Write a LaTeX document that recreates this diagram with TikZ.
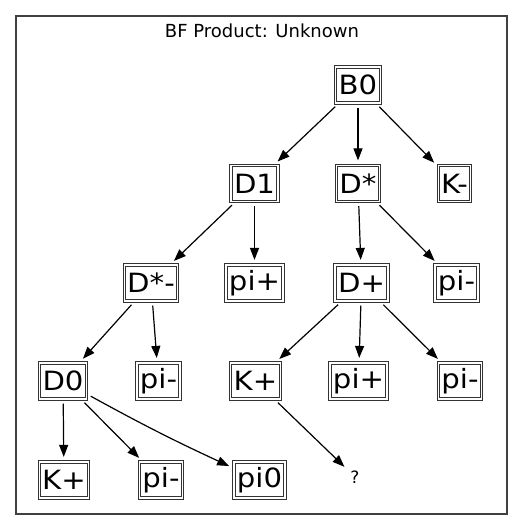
\documentclass[tikz,border=0pt]{standalone}
\usepackage{fontspec}
\setmainfont{DejaVu Sans}
\newfontfamily\labelfont[FakeStretch=1.1]{DejaVu Sans}
\usetikzlibrary{arrows.meta}
\begin{document}
\begin{tikzpicture}[x=1pt,y=1pt,
  particle/.style={draw=black!80,double=white,double distance=1.2pt,line width=1pt,
    font=\labelfont\fontsize{26.5}{26.5}\selectfont,inner xsep=3pt,inner ysep=0pt,
    minimum height=36pt,outer sep=1.6pt},
  decay/.style={line width=1.2pt,-{Triangle[length=12pt,width=9pt]},shorten >=3.5pt,shorten <=3pt}]
\useasboundingbox (0,0) rectangle (523,532);
\draw[line width=1.4pt,black!75] (16,18) rectangle (507,516);
\node (title) at (262,501) {\fontsize{18}{18}\selectfont BF Product: Unknown};
% decay chain
\node[particle] (B0) at (358,447) {B0};
\node[particle] (D1) at (254.5,348.5) {D1};
\node[particle] (Dst) at (358,348.5) {D*};
\node[particle] (Km) at (454.5,348.5) {K-};
\node[particle] (Dstm) at (151,249) {D*-};
\node[particle] (pipA) at (254.5,249) {pi+};
\node[particle] (Dp) at (361.5,249) {D+};
\node[particle] (pimA) at (456.5,249) {pi-};
\node[particle] (D0) at (63,151) {D0};
\node[particle] (pimB) at (158.5,151) {pi-};
\node[particle] (KpA) at (255.5,151) {K+};
\node[particle] (pipB) at (358.5,151) {pi+};
\node[particle] (pimC) at (460,151) {pi-};
\node[particle] (KpB) at (64,52) {K+};
\node[particle] (pimD) at (161,52) {pi-};
\node[particle] (pi0) at (259.5,52) {pi0};
\node (unk) at (355,55) {\fontsize{17}{17}\selectfont ?};
\draw[decay] (B0) -- (D1);
\draw[decay] (B0) -- (Dst);
\draw[decay] (B0) -- (Km);
\draw[decay] (D1) -- (Dstm);
\draw[decay] (D1) -- (pipA);
\draw[decay] (Dst) -- (Dp);
\draw[decay] (Dst) -- (pimA);
\draw[decay] (Dstm) -- (D0);
\draw[decay] (Dstm) -- (pimB);
\draw[decay] (Dp) -- (KpA);
\draw[decay] (Dp) -- (pipB);
\draw[decay] (Dp) -- (pimC);
\draw[decay] (D0) -- (KpB);
\draw[decay] (D0) -- (pimD);
\draw[decay] (D0) to[bend right=2] (pi0);
\draw[decay] (KpA) -- (unk);
\end{tikzpicture}
\end{document}
